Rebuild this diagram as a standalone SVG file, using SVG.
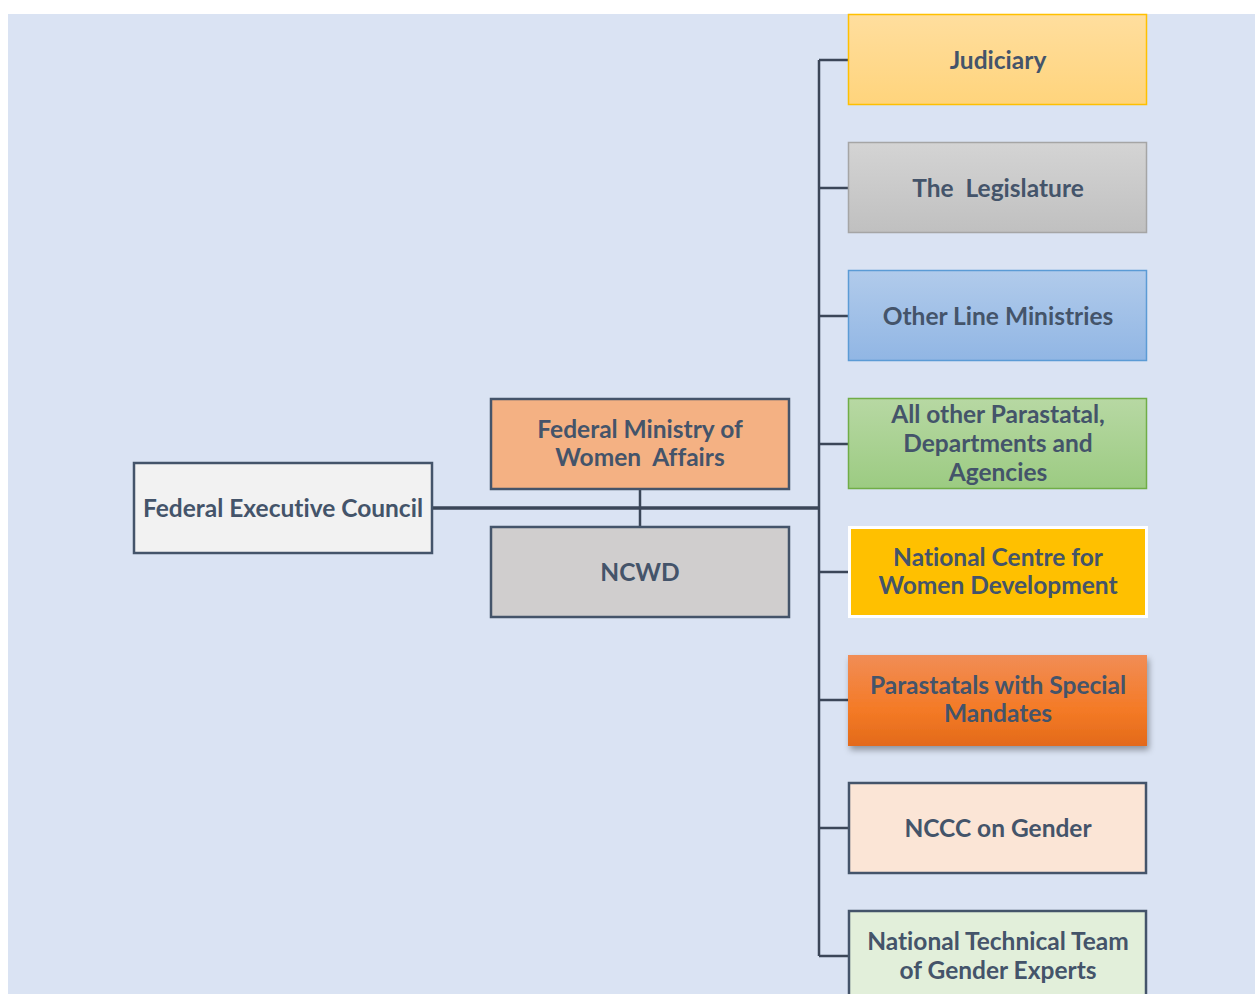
<svg xmlns="http://www.w3.org/2000/svg" width="1255" height="994" viewBox="0 0 1255 994">
<defs>
<linearGradient id="gJud" x1="0" y1="0" x2="0" y2="1"><stop offset="0" stop-color="#FFDE9E"/><stop offset="1" stop-color="#FFD47C"/></linearGradient>
<linearGradient id="gLeg" x1="0" y1="0" x2="0" y2="1"><stop offset="0" stop-color="#D4D4D4"/><stop offset="1" stop-color="#C0C0C0"/></linearGradient>
<linearGradient id="gBlue" x1="0" y1="0" x2="0" y2="1"><stop offset="0" stop-color="#B1CBEB"/><stop offset="1" stop-color="#91B6E4"/></linearGradient>
<linearGradient id="gGreen" x1="0" y1="0" x2="0" y2="1"><stop offset="0" stop-color="#B7D8A3"/><stop offset="1" stop-color="#9CCB82"/></linearGradient>
<linearGradient id="gOrange" x1="0" y1="0" x2="0" y2="1"><stop offset="0" stop-color="#F18D56"/><stop offset="0.6" stop-color="#F47A26"/><stop offset="1" stop-color="#E36A1A"/></linearGradient>
<filter id="shadow" x="-10%" y="-10%" width="125%" height="140%"><feDropShadow dx="2" dy="4" stdDeviation="3" flood-color="#000" flood-opacity="0.35"/></filter>
</defs>
<style>
text{font-family:Lato,"Open Sans","Liberation Sans",sans-serif;font-weight:bold;font-size:24.5px;fill:#44546A;text-anchor:middle;white-space:pre;font-variant-ligatures:none}
.dk{stroke:#44546A;stroke-width:2.5}
.conn{stroke:#3B4658;stroke-width:2.5;fill:none}
</style>
<rect x="8" y="14" width="1247" height="980" fill="#DAE3F3"/>
<g id="connectors">
<path class="conn" d="M819 60 V956"/>
<path class="conn" d="M819 60 H849 M819 188 H849 M819 316 H849 M819 444 H849 M819 572 H849 M819 700 H849 M819 828 H849 M819 956 H849"/>
<path class="conn" d="M432 508 H819" style="stroke-width:3.5"/>
<path class="conn" d="M640 490 V526"/>
</g>
<g id="fec"><rect class="dk" x="134" y="463" width="298" height="90" fill="#F2F2F2"/><text x="283" y="517">Federal Executive Council</text></g>
<g id="fmwa"><rect class="dk" x="491" y="399" width="298" height="90" fill="#F4B183"/><text x="640" y="438">Federal Ministry of</text><text x="640" y="466" xml:space="preserve">Women  Affairs</text></g>
<g id="ncwd"><rect class="dk" x="491" y="527" width="298" height="90" fill="#D0CECE"/><text x="640" y="581">NCWD</text></g>
<g id="judiciary"><rect x="848.5" y="14.5" width="298" height="90" fill="url(#gJud)" stroke="#FFC000" stroke-width="1.5"/><text x="998" y="69">Judiciary</text></g>
<g id="legislature"><rect x="848.5" y="142.5" width="298" height="90" fill="url(#gLeg)" stroke="#A5A5A5" stroke-width="1.5"/><text x="998" y="197" xml:space="preserve">The  Legislature</text></g>
<g id="ministries"><rect x="848.5" y="270.5" width="298" height="90" fill="url(#gBlue)" stroke="#5B9BD5" stroke-width="1.5"/><text x="998" y="325">Other Line Ministries</text></g>
<g id="parastatal"><rect x="848.5" y="398.5" width="298" height="90" fill="url(#gGreen)" stroke="#70AD47" stroke-width="1.5"/><text x="998" y="423">All other Parastatal,</text><text x="998" y="452">Departments and</text><text x="998" y="481">Agencies</text></g>
<g id="ncwd2"><rect x="849.5" y="527.5" width="297" height="89" fill="#FFC000" stroke="#FFFFFF" stroke-width="3"/><text x="998" y="566">National Centre for</text><text x="998" y="594">Women Development</text></g>
<g id="special"><rect x="848" y="655" width="299" height="91" fill="url(#gOrange)" filter="url(#shadow)"/><text x="998" y="694">Parastatals with Special</text><text x="998" y="722">Mandates</text></g>
<g id="nccc"><rect class="dk" x="849" y="783" width="297" height="90" fill="#FBE5D6"/><text x="998" y="837">NCCC on Gender</text></g>
<g id="ntt"><rect class="dk" x="849" y="911" width="297" height="90" fill="#E2EFDA"/><text x="998" y="950">National Technical Team</text><text x="998" y="979">of Gender Experts</text></g>
</svg>
